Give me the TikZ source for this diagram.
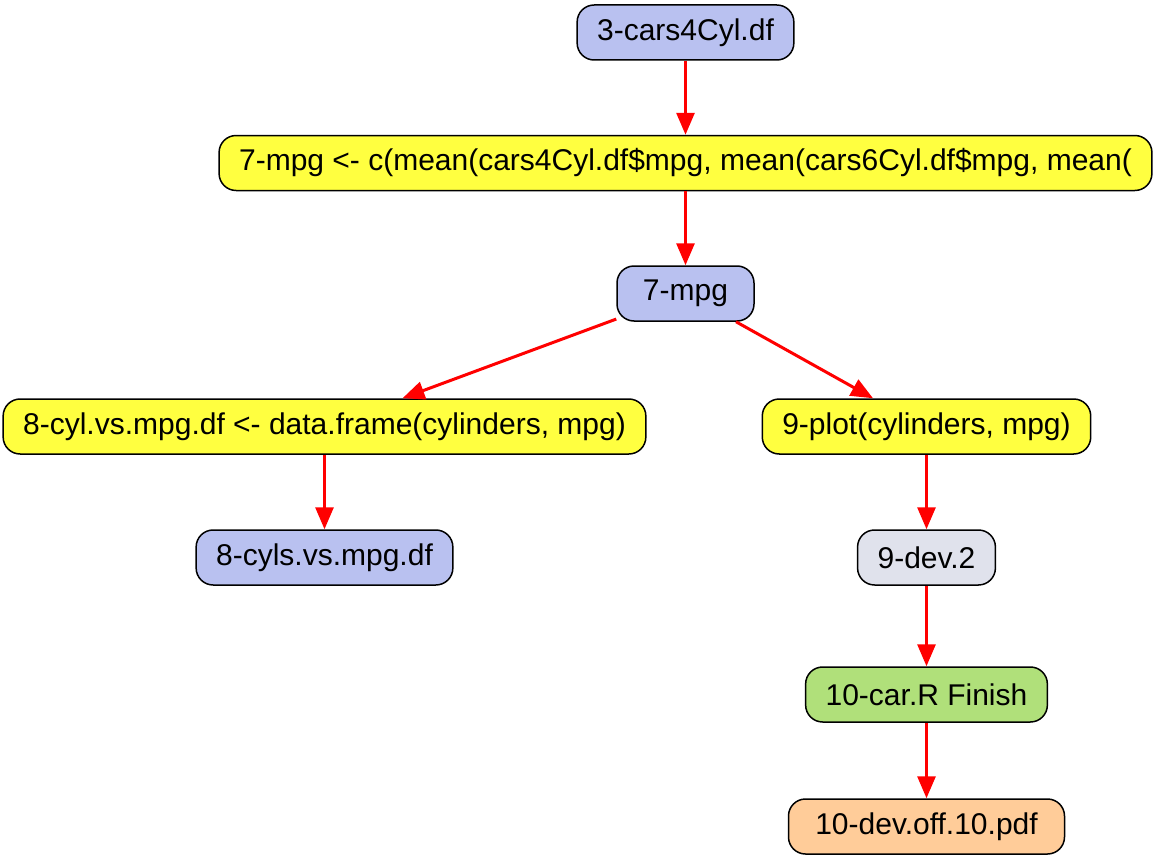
\documentclass[tikz,border=0pt]{standalone}
\usepackage{fontspec}
\setmainfont{Liberation Sans}
\usetikzlibrary{arrows.meta}

\definecolor{datablue}{RGB}{185,193,240}
\definecolor{codeyellow}{RGB}{255,255,64}
\definecolor{devgray}{RGB}{224,226,236}
\definecolor{finishgreen}{RGB}{176,224,122}
\definecolor{fileorange}{RGB}{255,204,153}

\begin{document}
\begin{tikzpicture}[x=1pt,y=1pt,
    box/.style={draw=black, line width=1.5pt, rounded corners=17pt,
      minimum height=55pt, minimum width=137pt, inner xsep=20pt,
      font=\fontsize{30}{36}\selectfont},
    data/.style={box, fill=datablue},
    code/.style={box, fill=codeyellow},
    dev/.style={box, fill=devgray},
    finish/.style={box, fill=finishgreen},
    outfile/.style={box, fill=fileorange, minimum width=276pt},
    flow/.style={draw=red, line width=3pt, -{Triangle[length=22pt,width=18pt]}}]
                \useasboundingbox (0,0) rectangle (1157,-859);

                \node [data] (cars) at (685.5,-32.5) {3-cars4Cyl.df};
                \node [code] (mpgcode) at (685.5,-163) {7-mpg <- c(mean(cars4Cyl.df\$mpg, mean(cars6Cyl.df\$mpg, mean(};
                \node [data] (mpg) at (685.5,-293.5) {7-mpg};
                \node [code] (dfcode) at (324.5,-426.5) {8-cyl.vs.mpg.df <- data.frame(cylinders, mpg)};
                \node [code] (plot) at (926.5,-426.5) {9-plot(cylinders, mpg)};
                \node [data] (cyls) at (324.5,-557.5) {8-cyls.vs.mpg.df};
                \node [dev] (dev) at (926.5,-557.5) {9-dev.2};
                \node [finish] (fin) at (926.5,-694.5) {10-car.R Finish};
                \node [outfile] (pdf) at (926.5,-826.5) {10-dev.off.10.pdf};

                \draw [flow] (cars) -- (mpgcode);
                \draw [flow] (mpgcode) -- (mpg);
                \draw [flow] (mpg) -- ([xshift=78pt]dfcode.north);
                \draw [flow] (mpg) -- ([xshift=-53.5pt]plot.north);
                \draw [flow] (dfcode) -- (cyls);
                \draw [flow] (plot) -- (dev);
                \draw [flow] (dev) -- (fin);
                \draw [flow] (fin) -- (pdf);

                \end{tikzpicture}
\end{document}
